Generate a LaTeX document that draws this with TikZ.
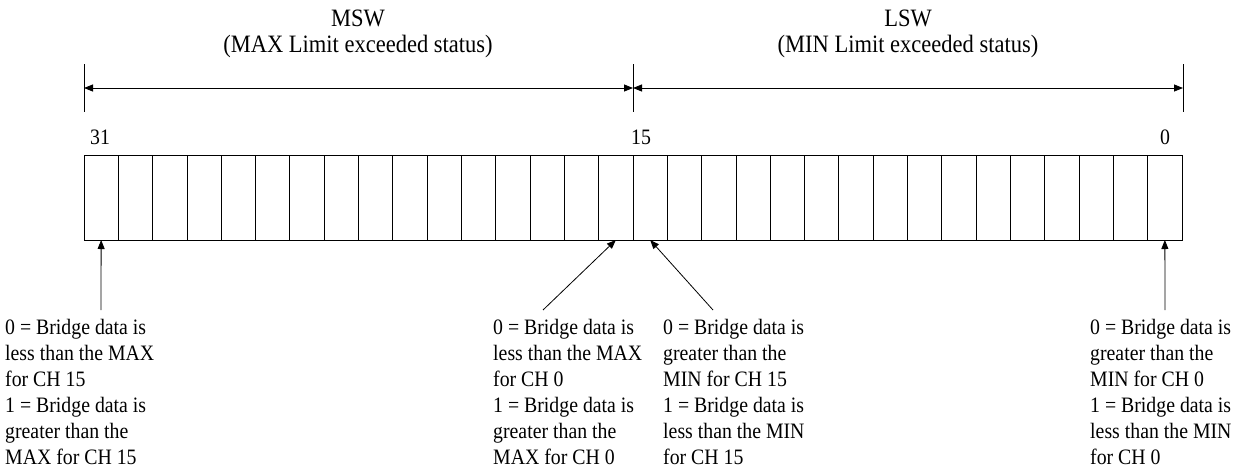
\documentclass[tikz,border=0pt]{standalone}
\usepackage{fontspec}
\setmainfont{Liberation Serif}[FakeStretch=0.9]
\usetikzlibrary{arrows.meta}
\tikzset{
  cell/.style={draw, line width=0.8pt, minimum width=34.3125pt, minimum height=85pt, inner sep=0pt, outer sep=0pt},
  head/.style={font=\fontsize{25}{29}\selectfont, inner sep=0pt},
  bitlbl/.style={font=\fontsize{22}{26}\selectfont, inner sep=0pt},
  desc/.style={font=\fontsize{22}{26}\selectfont, align=left, inner sep=0pt, anchor=north west},
  tick/.style={line width=0.8pt},
  dim/.style={line width=0.8pt, {Triangle[length=9pt,width=7pt]}-{Triangle[length=9pt,width=7pt]}},
  ptr/.style={line width=0.8pt, -{Triangle[length=9pt,width=7pt]}}
}
\begin{document}
\begin{tikzpicture}[x=1pt,y=-1pt]
\useasboundingbox (0,0) rectangle (1235,469);
% headings
\node[head] (msw) at (358,18) {MSW};
\node[head] (mswsub) at (358,46) {(MAX Limit exceeded status)};
\node[head] (lsw) at (908,18) {LSW};
\node[head] (lswsub) at (908,46) {(MIN Limit exceeded status)};
% ticks and dimension arrows
\coordinate (tLt) at (84,64);  \coordinate (tLb) at (84,112);
\coordinate (tMt) at (633,64); \coordinate (tMb) at (633,112);
\coordinate (tRt) at (1183,64); \coordinate (tRb) at (1183,112);
\coordinate (dL) at (84,88); \coordinate (dM) at (633,88); \coordinate (dR) at (1183,88);
\draw[tick] (tLt) -- (tLb);
\draw[tick] (tMt) -- (tMb);
\draw[tick] (tRt) -- (tRb);
\draw[dim] (dL) -- (dM);
\draw[dim] (dM) -- (dR);
% bit labels
\node[bitlbl] (l31) at (100,137) {31};
\node[bitlbl] (l15) at (641,137) {15};
\node[bitlbl] (l0) at (1165,137) {0};
% register cells
\foreach \i in {0,...,31}{
  \pgfmathtruncatemacro{\b}{31-\i}
  \node[cell] (cell\b) at ({84+34.3125*\i+17.15625},197.5) {};
}
% descriptions
\node[desc] (d1) at (5,319) {0 = Bridge data is\\less than the MAX\\for CH 15\\1 = Bridge data is\\greater than the\\MAX for CH 15};
\node[desc] (d2) at (493,319) {0 = Bridge data is\\less than the MAX\\for CH 0\\1 = Bridge data is\\greater than the\\MAX for CH 0};
\node[desc] (d3) at (663,319) {0 = Bridge data is\\greater than the\\MIN for CH 15\\1 = Bridge data is\\less than the MIN\\for CH 15};
\node[desc] (d4) at (1090,319) {0 = Bridge data is\\greater than the\\MIN for CH 0\\1 = Bridge data is\\less than the MIN\\for CH 0};
% pointers
\coordinate (p1) at (101,310);
\coordinate (p2) at (543,310);
\coordinate (p3) at (713,310);
\coordinate (p4) at (1165,310);
\draw[ptr] (p1) -- (cell31.south);
\draw[ptr] (p2) -- (cell16.south);
\draw[ptr] (p3) -- (cell15.south);
\draw[ptr] (p4) -- (cell0.south);
\end{tikzpicture}
\end{document}
